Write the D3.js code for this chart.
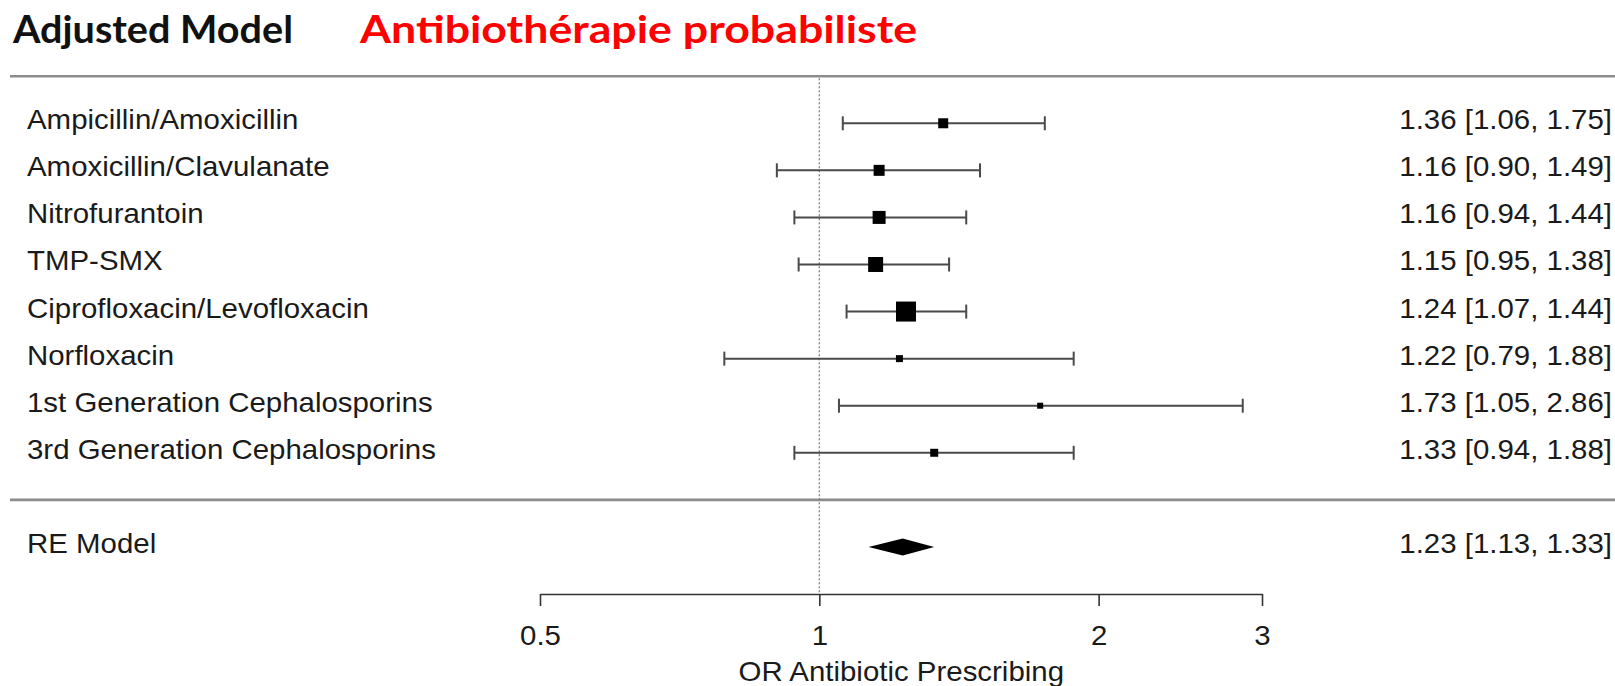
<!DOCTYPE html>
<html>
<head>
<meta charset="utf-8">
<script src="https://cdn.jsdelivr.net/npm/d3@7"></script>
<style>
  html, body { margin: 0; padding: 0; background: #fff; }
  svg { display: block; }
</style>
</head>
<body>
<svg id="chart" width="1615" height="686"></svg>
<script>
// ---- data ----
const studyLabels = [
  "Ampicillin/Amoxicillin",
  "Amoxicillin/Clavulanate",
  "Nitrofurantoin",
  "TMP-SMX",
  "Ciprofloxacin/Levofloxacin",
  "Norfloxacin",
  "1st Generation Cephalosporins",
  "3rd Generation Cephalosporins"
];
const estimates = [1.36, 1.16, 1.16, 1.15, 1.24, 1.22, 1.73, 1.33];
const lowerCI   = [1.06, 0.90, 0.94, 0.95, 1.07, 0.79, 1.05, 0.94];
const upperCI   = [1.75, 1.49, 1.44, 1.38, 1.44, 1.88, 2.86, 1.88];
const weights   = [8.6, 10.4, 14.5, 19.3, 34.4, 4.2, 3.1, 5.5];
const summaryLabel = "RE Model";
const summaryEst = 1.23, summaryLo = 1.13, summaryHi = 1.33;
const tickValues = [0.5, 1, 2, 3];
const titleText = "Adjusted Model";
const subtitleText = "Antibiothérapie probabiliste";
const xAxisTitle = "OR Antibiotic Prescribing";

// ---- setup ----
const svg = d3.select("#chart");
const FONT = "'Liberation Sans', Arial, Helvetica, sans-serif";
const SX = 1.09;       // horizontal stretch of the reference text
const FS = 27;

const k = studyLabels.length;
const x = d3.scaleLog().domain([0.5, 3]).range([540, 1262]);
const y = d3.scaleLinear().domain([k + 1, -2]).range([76.2, 594]);
const size = d3.scaleSqrt().domain([0, d3.max(weights)]).range([0, 20]);

const rows = studyLabels.map((lab, i) => ({
  label: lab, est: estimates[i], lo: lowerCI[i], hi: upperCI[i], w: weights[i], row: k - i
}));
const fmt = d3.format(".2f");

function stretchedText(sel, tx, ty, anchor) {
  return sel.append("text")
    .attr("transform", `translate(${tx},${ty}) scale(${SX},1)`)
    .attr("text-anchor", anchor)
    .attr("font-family", FONT)
    .attr("font-size", FS)
    .attr("fill", "#1a1a1a");
}

// ---- titles ----
svg.append("text")
  .attr("x", 13).attr("y", 43)
  .attr("font-family", "Lato, 'Open Sans', sans-serif")
  .attr("font-weight", 700).attr("font-size", 38.5)
  .attr("textLength", 280).attr("lengthAdjust", "spacingAndGlyphs")
  .attr("fill", "#111").text(titleText);
svg.append("text")
  .attr("x", 360).attr("y", 43)
  .attr("font-family", "Lato, 'Open Sans', sans-serif")
  .attr("font-weight", 700).attr("font-size", 38.5)
  .attr("textLength", 557).attr("lengthAdjust", "spacingAndGlyphs")
  .attr("fill", "#ff0000").text(subtitleText);

// ---- horizontal rules ----
[k + 1, 0].forEach(r => {
  svg.append("line")
    .attr("x1", 10).attr("x2", 1615)
    .attr("y1", y(r)).attr("y2", y(r))
    .attr("stroke", "#8c8c8c").attr("stroke-width", 2.6);
});

// ---- reference line at OR = 1 ----
svg.append("line")
  .attr("x1", x(1)).attr("x2", x(1))
  .attr("y1", y(k + 1) + 2).attr("y2", y(-2))
  .attr("stroke", "#777").attr("stroke-width", 1.2)
  .attr("stroke-dasharray", "2,2");

// ---- study rows ----
const g = svg.append("g");
const capH = 7;
const rowG = g.selectAll("g.row").data(rows).join("g").attr("class", "row");
rowG.append("line")
  .attr("x1", d => x(d.lo)).attr("x2", d => x(d.hi))
  .attr("y1", d => y(d.row)).attr("y2", d => y(d.row))
  .attr("stroke", "#4a4a4a").attr("stroke-width", 2);
rowG.append("line")
  .attr("x1", d => x(d.lo)).attr("x2", d => x(d.lo))
  .attr("y1", d => y(d.row) - capH).attr("y2", d => y(d.row) + capH)
  .attr("stroke", "#4a4a4a").attr("stroke-width", 2);
rowG.append("line")
  .attr("x1", d => x(d.hi)).attr("x2", d => x(d.hi))
  .attr("y1", d => y(d.row) - capH).attr("y2", d => y(d.row) + capH)
  .attr("stroke", "#4a4a4a").attr("stroke-width", 2);
rowG.append("rect")
  .attr("x", d => x(d.est) - size(d.w) / 2)
  .attr("y", d => y(d.row) - size(d.w) / 2)
  .attr("width", d => size(d.w)).attr("height", d => size(d.w))
  .attr("fill", "#000");

rows.forEach(d => {
  stretchedText(svg, 27, y(d.row) + 6, "start").text(d.label);
  stretchedText(svg, 1612, y(d.row) + 6, "end")
    .text(`${fmt(d.est)} [${fmt(d.lo)}, ${fmt(d.hi)}]`);
});

// ---- summary ----
const ys = y(-1);
const dh = 8.5;
svg.append("path")
  .attr("d", d3.line()([
    [x(summaryLo), ys], [x(summaryEst), ys - dh], [x(summaryHi), ys], [x(summaryEst), ys + dh]
  ]) + "Z")
  .attr("fill", "#000");
stretchedText(svg, 27, ys + 6, "start").text(summaryLabel);
stretchedText(svg, 1612, ys + 6, "end")
  .text(`${fmt(summaryEst)} [${fmt(summaryLo)}, ${fmt(summaryHi)}]`);

// ---- x axis ----
const axis = d3.axisBottom(x).tickValues(tickValues).tickFormat(d => String(d))
  .tickSize(12).tickSizeOuter(0);
const ax = svg.append("g").attr("transform", `translate(0,${y(-2)})`).call(axis);
ax.select(".domain").attr("stroke", "#333").attr("stroke-width", 1.6);
ax.selectAll(".tick line").attr("stroke", "#333").attr("stroke-width", 1.6);
ax.selectAll(".tick text")
  .attr("y", 0).attr("dy", null)
  .attr("transform", `translate(0,51) scale(${SX},1)`)
  .attr("font-family", FONT).attr("font-size", FS).attr("fill", "#1a1a1a");

stretchedText(svg, x(1) + 82, 681, "middle").text(xAxisTitle);
</script>
</body>
</html>
